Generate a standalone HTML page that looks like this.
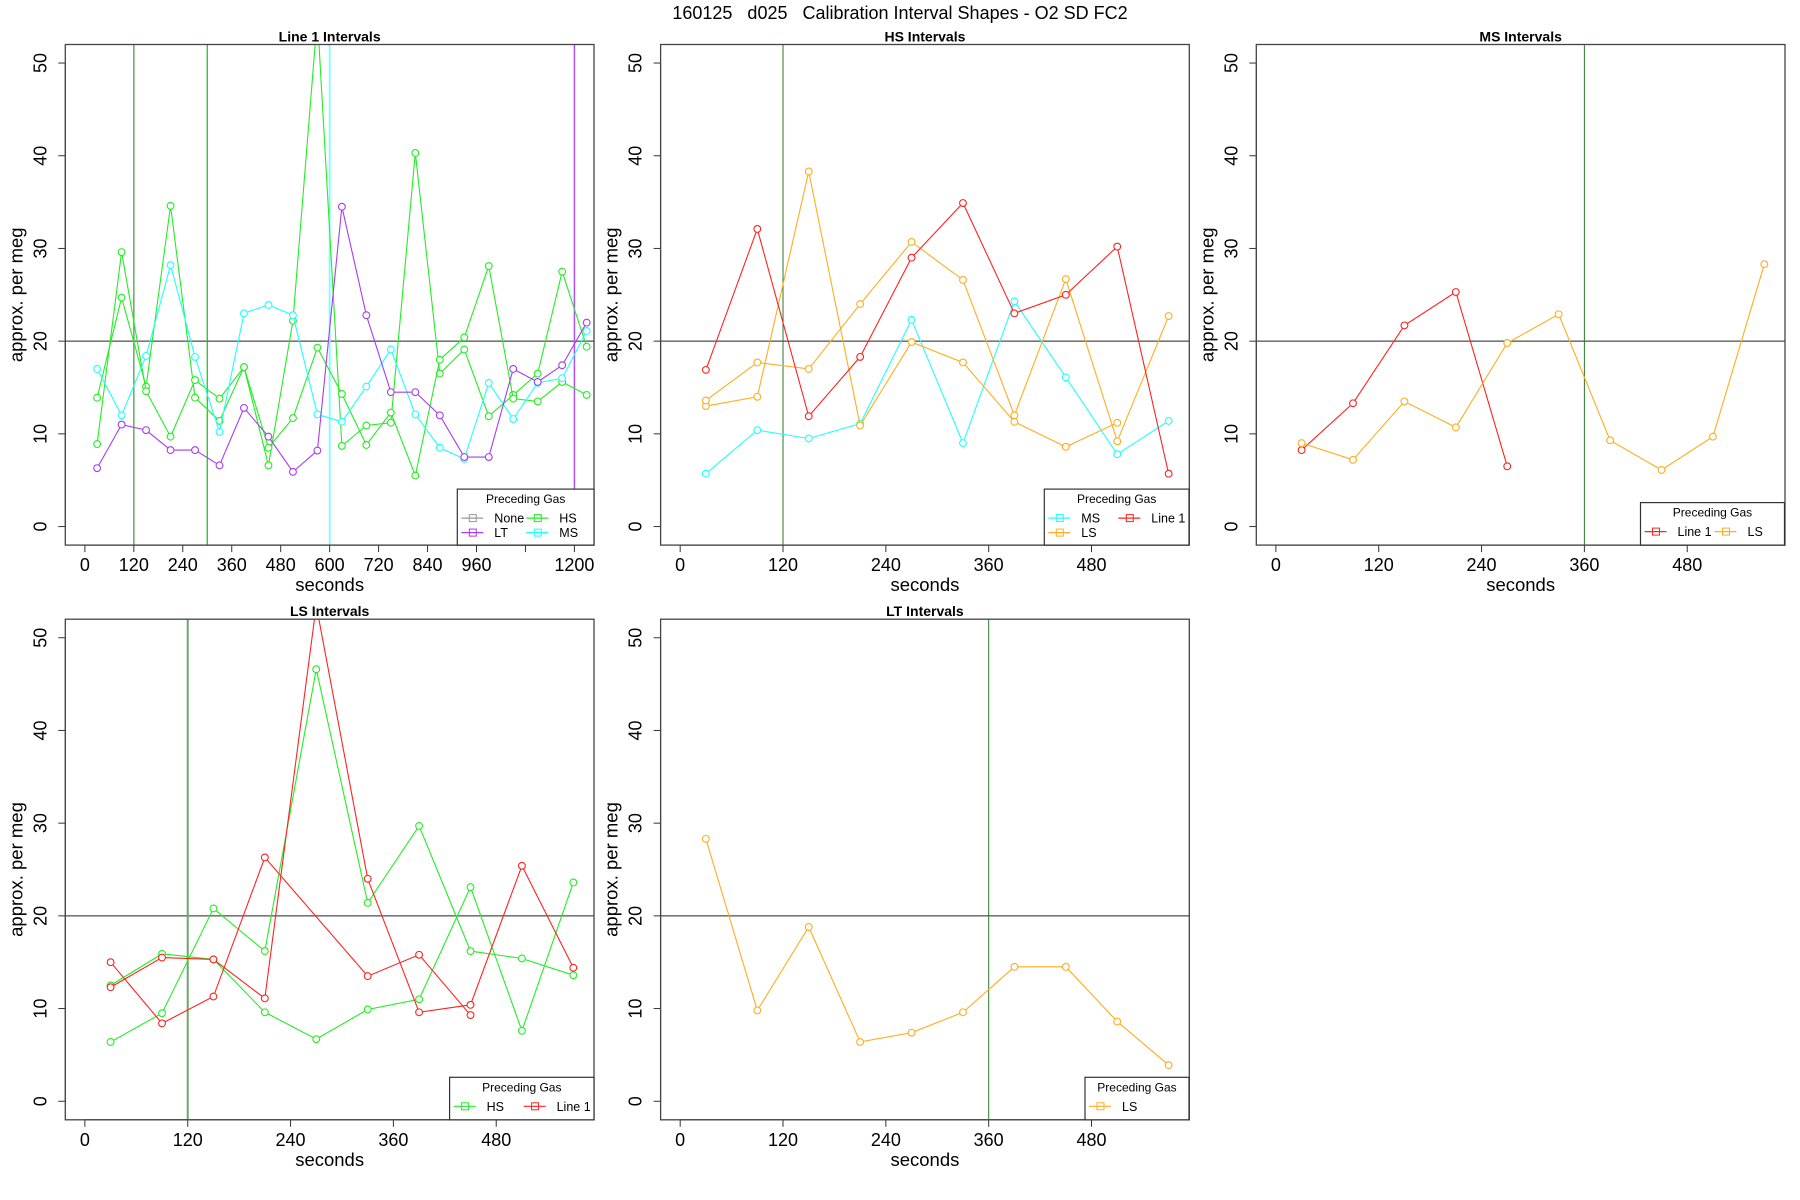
<!DOCTYPE html>
<html><head><meta charset="utf-8"><style>
body{margin:0;background:#fff;}
svg{display:block;font-family:"Liberation Sans",sans-serif;}
</style></head><body>
<svg id="chart" width="1800" height="1200" viewBox="0 0 1800 1200" xmlns="http://www.w3.org/2000/svg">
<rect width="1800" height="1200" fill="#fff"/>
<text x="900" y="19" text-anchor="middle" font-size="18" fill="#000" style="white-space:pre" xml:space="preserve">160125   d025   Calibration Interval Shapes - O2 SD FC2</text>
</svg>
<script>
// ---- data ----
const xsFull = [30,90,150,210,270,330,390,450,510,570,630,690,750,810,870,930,990,1050,1110,1170,1230];
const xsHalf = [30,90,150,210,270,330,390,450,510,570];
// Panel 1: Line 1 intervals
const p1LT = [6.3,11.0,10.4,8.25,8.25,6.6,12.8,9.7,5.9,8.2,34.5,22.8,14.5,14.5,12.0,7.5,7.5,17.0,15.6,17.4,22.0];
const p1MS = [17.0,12.0,18.4,28.2,18.3,10.2,23.0,23.9,22.8,12.1,11.3,15.1,19.1,12.1,8.5,7.3,15.5,11.6,15.5,16.0,21.1];
const p1HSa = [13.9,24.7,15.1,34.6,13.9,11.4,17.2,6.6,22.2,55,8.7,10.9,11.2,40.3,16.5,19.1,11.9,14.2,16.5,27.5,19.4];
const p1HSb = [8.9,29.6,14.6,9.7,15.8,13.8,17.2,8.5,11.7,19.3,14.3,8.8,12.3,5.5,18.0,20.4,28.1,13.8,13.5,15.6,14.2];
// Panel 2: HS intervals
const p2Line1 = [16.9,32.1,11.9,18.3,29.0,34.9,23.0,25.0,30.2,5.7];
const p2MS = [5.7,10.4,9.5,11.1,22.3,9.0,24.3,16.1,7.8,11.4];
const p2LSa = [13.0,14.0,38.3,10.9,19.9,17.7,11.3,8.6,11.2];
const p2LSb = [13.6,17.7,17.0,24.0,30.7,26.6,12.0,26.7,9.2,22.7];
// Panel 3: MS intervals
const p3Line1 = [8.25,13.3,21.7,25.3,6.5];
const p3LS = [9.0,7.2,13.5,10.7,19.8,22.9,9.3,6.1,9.7,28.3];
// Panel 4: LS intervals
const p4HSa = [6.4,9.5,20.8,16.2,46.6,21.4,29.7,16.2,15.4,13.6];
const p4HSb = [12.5,15.9,15.3,9.6,6.7,9.9,11.0,23.1,7.6,23.6];
const p4Line1aX = [30,90,150,210,330,390,450];
const p4Line1a = [15.0,8.4,11.3,26.3,13.5,15.8,9.3];
const p4Line1b = [12.3,15.5,15.3,11.1,53.5,24.0,9.6,10.4,25.4,14.4];
// Panel 5: LT intervals
const p5LS = [28.3,9.8,18.8,6.4,7.4,9.6,14.5,14.5,8.6,3.9];
const yTicks = [0,10,20,30,40,50];
const xTicks1 = [0,120,240,360,480,600,720,840,960,1080,1200];
const xTickLabels1 = ["0","120","240","360","480","600","720","840","960","","1200"];
const xTicks2 = [0,120,240,360,480];

const C = {green:'#22ee22',cyan:'#22ffff',purple:'#a83cf0',orange:'#ffad1f',red:'#ff2222',gray:'#999999'};
const NS='http://www.w3.org/2000/svg';
const svg=document.getElementById('chart');
function mk(tag,attrs,parent){const e=document.createElementNS(NS,tag);for(const k in attrs)e.setAttribute(k,attrs[k]);(parent||svg).appendChild(e);return e;}

const panels=[
 {key:'line1',title:'Line 1 Intervals',left:65.3,top:44.5,xmin:-48,xmax:1248,ticks:xTicks1,labels:xTickLabels1,
  series:[{x:xsFull,y:p1HSa,c:C.green,n:'hs-a'},{x:xsFull,y:p1HSb,c:C.green,n:'hs-b'},{x:xsFull,y:p1MS,c:C.cyan,n:'ms'},{x:xsFull,y:p1LT,c:C.purple,n:'lt'}],
  vlines:[{v:120,c:'#6aa86a',w:1.5},{v:300,c:'#00cc00',w:1.2},{v:600,c:'#7ff',w:1.8},{v:1200,c:'#b050f0',w:1.5}],
  legend:{x:457.3,w:136.7,h:56,entries:[['None',C.gray,0,0],['HS',C.green,1,0],['LT',C.purple,0,1],['MS',C.cyan,1,1]],col2:65}},
 {key:'hs',title:'HS Intervals',left:660.6,top:44.5,xmin:-22.85,xmax:594.1,ticks:xTicks2,
  series:[{x:xsHalf,y:p2MS,c:C.cyan,n:'ms'},{x:xsHalf.slice(0,9),y:p2LSa,c:C.orange,n:'ls-a'},{x:xsHalf,y:p2LSb,c:C.orange,n:'ls-b'},{x:xsHalf,y:p2Line1,c:C.red,n:'line1'}],
  vlines:[{v:120,c:'#2a7a2a',w:1}],
  legend:{x:1044.3,w:144.7,h:56,entries:[['MS',C.cyan,0,0],['Line 1',C.red,1,0],['LS',C.orange,0,1]],col2:70}},
 {key:'ms',title:'MS Intervals',left:1256.3,top:44.5,xmin:-22.85,xmax:594.1,ticks:xTicks2,
  series:[{x:xsHalf.slice(0,5),y:p3Line1,c:C.red,n:'line1'},{x:xsHalf,y:p3LS,c:C.orange,n:'ls'}],
  vlines:[{v:360,c:'#2a7a2a',w:1}],
  legend:{x:1640.5,w:144,h:42.5,oneRow:true,entries:[['Line 1',C.red,0,0],['LS',C.orange,1,0]],col2:70}},
 {key:'ls',title:'LS Intervals',left:65.3,top:619.2,xmin:-22.85,xmax:594.1,ticks:xTicks2,
  series:[{x:xsHalf,y:p4HSa,c:C.green,n:'hs-a'},{x:xsHalf,y:p4HSb,c:C.green,n:'hs-b'},{x:p4Line1aX,y:p4Line1a,c:C.red,n:'line1-a'},{x:xsHalf,y:p4Line1b,c:C.red,n:'line1-b'}],
  vlines:[{v:120,c:'#6aa86a',w:2}],
  legend:{x:449.6,w:144.4,h:42.5,oneRow:true,entries:[['HS',C.green,0,0],['Line 1',C.red,1,0]],col2:70}},
 {key:'lt',title:'LT Intervals',left:660.6,top:619.2,xmin:-22.85,xmax:594.1,ticks:xTicks2,
  series:[{x:xsHalf,y:p5LS,c:C.orange,n:'ls'}],
  vlines:[{v:360,c:'#2a7a2a',w:1}],
  legend:{x:1085,w:104,h:42.5,oneRow:true,entries:[['LS',C.orange,0,0]],col2:70}}
];
const W=528.7,H=500.6,YMIN=-2,YMAX=52;

panels.forEach(p=>{
  const g=mk('g',{});
  
  
  const sx=v=>p.left+(v-p.xmin)/(p.xmax-p.xmin)*W;
  const sy=v=>p.top+(YMAX-v)/(YMAX-YMIN)*H;
  const bottom=p.top+H;
  const clipId='clip-'+p.key;
  const cp=mk('clipPath',{id:clipId},g);
  mk('rect',{x:p.left,y:p.top,width:W,height:H},cp);
  const t=mk('text',{x:p.left+W/2,y:p.top-3,'text-anchor':'middle','font-size':14,'font-weight':'bold'},g);
  t.textContent=p.title;
  
  
  mk('line',{x1:p.left,x2:p.left,y1:sy(0),y2:sy(50),stroke:'#333'},g);
  yTicks.forEach(v=>{
    const l=mk('line',{x1:p.left-7,x2:p.left,y1:sy(v),y2:sy(v),stroke:'#333'},g);
    
    
    const tx=mk('text',{x:0,y:0,transform:`translate(${p.left-19},${sy(v)}) rotate(-90)`,'text-anchor':'middle','font-size':18},g);
    tx.textContent=v;
    
    
  });
  const yt=mk('text',{x:0,y:0,transform:`translate(${p.left-43},${p.top+H/2}) rotate(-90)`,'text-anchor':'middle','font-size':18.5},g);
  yt.textContent='approx. per meg';
  
  
  const tk=p.ticks;
  mk('line',{x1:sx(tk[0]),x2:sx(tk[tk.length-1]),y1:bottom,y2:bottom,stroke:'#333'},g);
  tk.forEach((v,i)=>{
    const l=mk('line',{x1:sx(v),x2:sx(v),y1:bottom,y2:bottom+7,stroke:'#333'},g);
    
    
    const lab=p.labels?p.labels[i]:String(v);
    if(lab){
      const tx=mk('text',{x:sx(v),y:bottom+26,'text-anchor':'middle','font-size':18},g);
      tx.textContent=lab;
      
      
    }
  });
  const xt=mk('text',{x:p.left+W/2,y:bottom+46,'text-anchor':'middle','font-size':18.5},g);
  xt.textContent='seconds';
  
  
  const inner=mk('g',{'clip-path':`url(#${clipId})`},g);
  const h=mk('line',{x1:p.left,x2:p.left+W,y1:sy(20),y2:sy(20),stroke:'#777','stroke-width':1.6},inner);
  
  
  p.vlines.forEach(vl=>{
    const l=mk('line',{x1:sx(vl.v),x2:sx(vl.v),y1:p.top,y2:bottom,stroke:vl.c,'stroke-width':vl.w},inner);
    
    
  });
  p.series.forEach(s=>{
    const sg=mk('g',{},inner);
    
    
    const pts=s.y.map((v,i)=>sx(s.x[i])+','+sy(v)).join(' ');
    mk('polyline',{points:pts,fill:'none',stroke:s.c,'stroke-width':1.1},sg);
    s.y.forEach((v,i)=>{
      const c=mk('circle',{cx:sx(s.x[i]),cy:sy(v),r:3.4,fill:'#fff',stroke:s.c,'stroke-width':1.1},sg);
      
      
    });
  });
  mk('rect',{x:p.left,y:p.top,width:W,height:H,fill:'none',stroke:'#444','stroke-width':1.3},g);
  const L=p.legend;
  const lg=mk('g',{},g);
  
  
  const ly=bottom-L.h;
  mk('rect',{x:L.x,y:ly,width:L.w,height:L.h,fill:'#fff',stroke:'#333','stroke-width':1.2},lg);
  const lt=mk('text',{x:L.x+L.w/2,y:ly+14,'text-anchor':'middle','font-size':12},lg);
  lt.textContent='Preceding Gas';
  
  
  L.entries.forEach(e=>{
    const ex=L.x+4+e[2]*L.col2, ey=ly+29+e[3]*14.5;
    const eg=mk('g',{},lg);
    
    
    mk('line',{x1:ex,x2:ex+22,y1:ey,y2:ey,stroke:e[1],'stroke-width':1.2},eg);
    mk('rect',{x:ex+8,y:ey-3.5,width:7,height:7,fill:'none',stroke:e[1],'stroke-width':1},eg);
    const et=mk('text',{x:ex+33,y:ey+4.5,'font-size':12.5},eg);
    et.textContent=e[0];
  });
});
</script>
</body></html>
